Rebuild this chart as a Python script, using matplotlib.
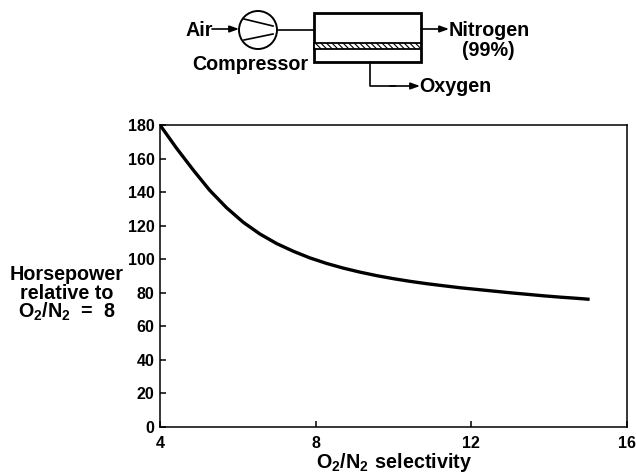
import matplotlib
matplotlib.use("Agg")
import matplotlib.pyplot as plt
import matplotlib.patches as mpatches

selectivity = [4, 4.43, 4.86, 5.28, 5.71, 6.14, 6.57, 7.0, 7.43, 7.85, 8.28, 8.71, 9.14, 9.57,
               10.0, 10.43, 10.86, 11.28, 11.71, 12.14, 12.57, 13.0, 13.43, 13.85, 14.28, 14.71, 15.04]
horsepower = [180, 166, 153, 141, 130.7, 122, 115, 109.3, 104.7, 100.8, 97.5, 94.7, 92.3, 90.2,
              88.4, 86.8, 85.4, 84.2, 83, 82, 81, 80, 79.1, 78.2, 77.4, 76.7, 76.1]
x_ticks = [4, 8, 12, 16]
y_ticks = [0, 20, 40, 60, 80, 100, 120, 140, 160, 180]

W, H = 636, 473
FS = 11.5
FS_LABEL = 14.2

plt.rcParams["font.family"] = ["Liberation Sans", "DejaVu Sans"]
plt.rcParams["font.weight"] = "bold"
plt.rcParams["mathtext.fontset"] = "custom"
plt.rcParams["mathtext.bf"] = "Liberation Sans:bold"
plt.rcParams["mathtext.rm"] = "Liberation Sans:bold"
plt.rcParams["hatch.linewidth"] = 0.8

fig = plt.figure(figsize=(W / 100, H / 100), dpi=100)

# plot area, pixel box from the reference
left, right, top, bottom = 160, 627, 125, 427
ax = fig.add_axes([left / W, 1 - bottom / H, (right - left) / W, (bottom - top) / H])
ax.plot(selectivity, horsepower, color="black", linewidth=2.4, solid_capstyle="butt")
ax.set_xlim(4, 16)
ax.set_ylim(0, 180)
ax.set_xticks(x_ticks)
ax.set_yticks(y_ticks)
ax.tick_params(direction="in", length=4.5, width=1.1, labelsize=FS)
ax.tick_params(axis="x", pad=6.5)
ax.tick_params(axis="y", pad=4)
for s in ax.spines.values():
    s.set_linewidth(1.1)

# overlay in pixel coords for the process sketch and the axis titles
d = fig.add_axes([0, 0, 1, 1], facecolor="none")
d.set_xlim(0, W)
d.set_ylim(H, 0)
d.axis("off")

d.text(394, 462, r"$\mathbf{O_2/N_2\ selectivity}$", fontsize=FS_LABEL, ha="center", va="center")
d.text(67, 274, "Horsepower", fontsize=FS_LABEL, ha="center", va="center")
d.text(67, 293, "relative to", fontsize=FS_LABEL, ha="center", va="center")
d.text(67, 312, r"$\mathbf{O_2/N_2\ =\ 8}$", fontsize=FS_LABEL, ha="center", va="center")


def arrow(x0, y0, x1, y1):
    d.annotate("", xy=(x1, y1), xytext=(x0, y0),
               arrowprops=dict(arrowstyle="-|>,head_length=0.55,head_width=0.2",
                               color="black", lw=1.2, shrinkA=0, shrinkB=0))


d.text(185, 30, "Air", fontsize=FS_LABEL, ha="left", va="center")
arrow(212, 29, 239, 29)
d.add_patch(mpatches.Ellipse((258, 30), 38, 38, fill=False, ec="black", lw=1.4))
d.plot([244, 273], [19, 26], color="black", lw=1.2)
d.plot([244, 273], [40, 34], color="black", lw=1.2)
d.plot([277, 314], [30, 30], color="black", lw=1.2)

d.add_patch(mpatches.Rectangle((314, 13), 107, 49, fill=False, ec="black", lw=2))
d.add_patch(mpatches.Rectangle((314, 43), 107, 6, fc="white", ec="black", lw=1.3,
                               hatch="\\\\\\\\\\\\"))

arrow(421, 29, 449, 29)
d.text(449, 30, "Nitrogen", fontsize=FS_LABEL, ha="left", va="center")
d.text(488, 51, "(99%)", fontsize=FS_LABEL, ha="center", va="center")
d.text(250, 65, "Compressor", fontsize=FS_LABEL, ha="center", va="center")

d.plot([370, 370, 395], [62, 86, 86], color="black", lw=1.2)
arrow(390, 86, 420, 86)
d.text(419, 87, "Oxygen", fontsize=FS_LABEL, ha="left", va="center")

fig.savefig("out.png", dpi=100)
